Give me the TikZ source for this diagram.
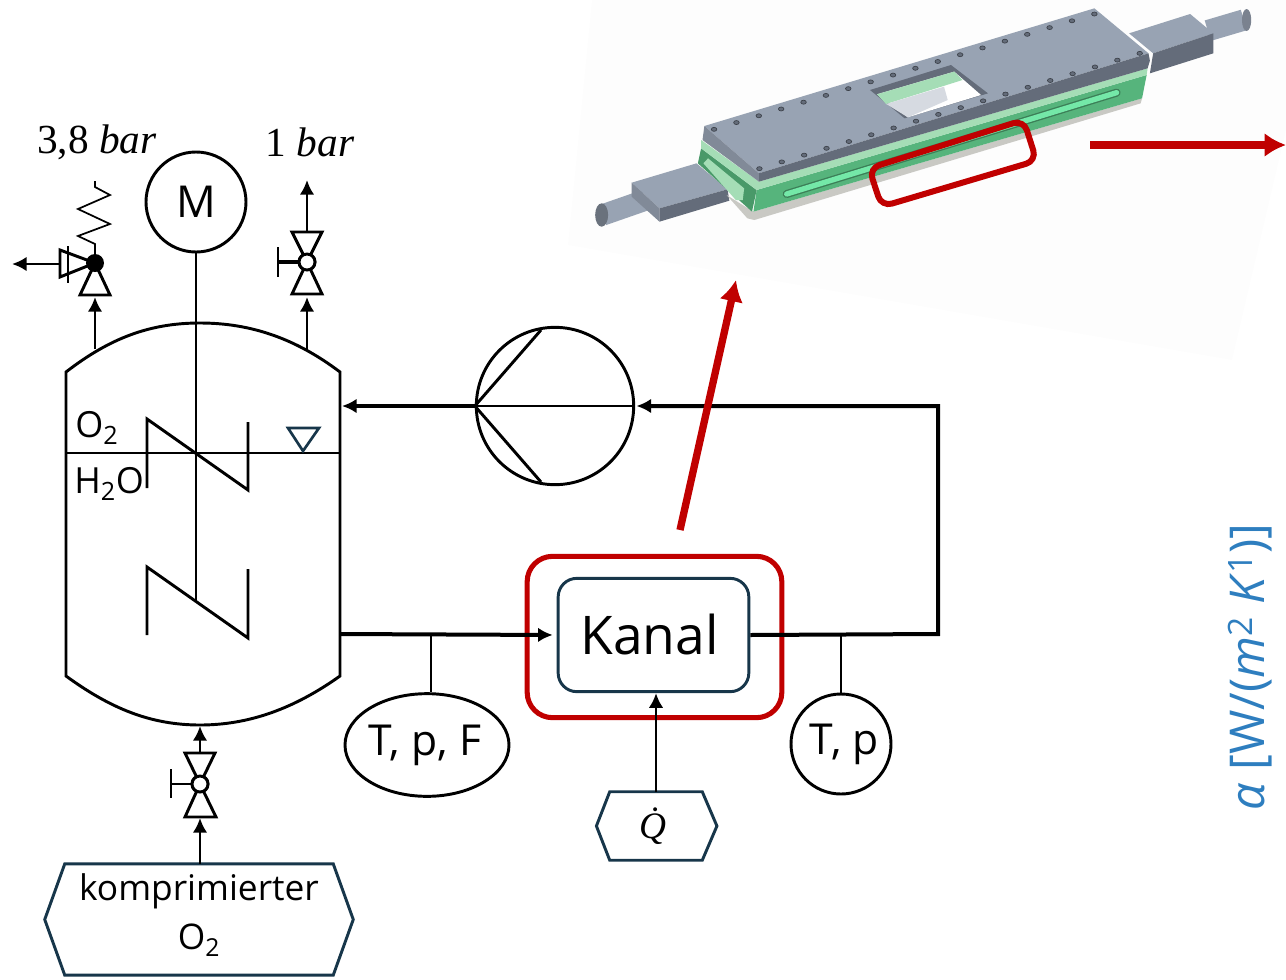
\documentclass[tikz,border=0pt]{standalone}
\usepackage{fontspec}
\usepackage{xcolor}
\setmainfont{Open Sans}
\newfontfamily\mathlike{Liberation Serif}
\usetikzlibrary{arrows.meta,shapes.geometric}
\definecolor{tealdark}{HTML}{17364A}
\definecolor{kanalred}{HTML}{C00000}
\definecolor{alphablue}{HTML}{2E7EBF}
\definecolor{plategrey}{HTML}{98A3B3}
\definecolor{platedark}{HTML}{646C7A}
\definecolor{greenbody}{HTML}{56B47C}
\definecolor{greenlight}{HTML}{A5DDB6}
\definecolor{slotgreen}{HTML}{74E8A8}
\definecolor{basegrey}{HTML}{C9C9C4}
\tikzset{
  line/.style={line width=2.2pt,draw=black},
  flow/.style={line width=2.2pt,-{Latex[length=11pt,width=11pt]}},
  mainflow/.style={line width=3pt,-{Latex[length=11pt,width=11pt]}},
  redflow/.style={line width=5.5pt,draw=kanalred,-{Latex[length=16pt,width=18pt]}},
  valvetri/.style={line width=2.2pt,draw=black,fill=white},
  sensor/.style={draw,line width=2.2pt,fill=white,inner sep=0pt},
  hexbody/.style={inner sep=0pt},
  hexline/.style={draw=tealdark,line width=2.2pt,line join=miter},
  bolt/.style={fill=platedark,draw=platedark!60!black,line width=.5pt}
}
\begin{document}
\begin{tikzpicture}[x=.75pt,y=-.75pt]
  \useasboundingbox (0,0) rectangle (1286,979);

  % background of the model picture
  \fill[black!.7] (592,0) -- (1286,0) -- (1286,130) -- (1232,360) -- (568,245) -- cycle;

  % model
  \begin{scope}[shift={(560,0)},x=.347pt,y=-.25pt]
    \draw[plategrey,line width=16pt] (92,645) -- (185,600);
    \fill[plategrey!70!black] (90,645) ellipse (14 and 35);
    \fill[plategrey] (155,548) -- (295,490) -- (362,568) -- (215,625) -- cycle;
    \fill[platedark] (215,625) -- (362,568) -- (366,602) -- (215,665) -- cycle;
    \fill[plategrey!85!black] (155,548) -- (215,625) -- (215,665) -- (155,590) -- cycle;
    \draw[plategrey,line width=16pt] (1400,92) -- (1478,60);
    \fill[plategrey!80!black] (1484,60) ellipse (10 and 33);
    \fill[plategrey] (1230,100) -- (1362,42) -- (1412,100) -- (1282,160) -- cycle;
    \fill[platedark] (1282,160) -- (1412,100) -- (1412,160) -- (1275,220) -- cycle;

    \fill[basegrey] (360,585) -- (418,635) -- (1258,295) -- (1255,310) -- (420,660) -- (405,655) -- cycle;
    \fill[greenbody] (425,570) -- (1268,225) -- (1258,295) -- (418,635) -- cycle;
    \fill[greenbody!85!black] (305,445) -- (425,570) -- (415,635) -- (298,490) -- cycle;
    \fill[greenlight] (305,420) -- (430,545) -- (1270,205) -- (1268,225) -- (425,570) -- (305,445) -- cycle;
    \fill[greenlight] (310,490) -- (320,475) -- (398,565) -- (395,600) -- (380,600) -- cycle;
    \fill[plategrey] (312,378) -- (1155,25) -- (1272,160) -- (430,520) -- cycle;
    \fill[platedark] (430,520) -- (1272,160) -- (1275,182) -- (1270,205) -- (430,545) -- cycle;
    \fill[plategrey!85!black] (312,378) -- (430,520) -- (430,545) -- (308,420) -- cycle;

    \draw[greenbody!70!black,line width=6pt,line cap=round] (490,582) -- (1203,278);
    \draw[slotgreen,line width=4pt,line cap=round] (490,582) -- (1203,278);

    \fill[platedark] (670,270) -- (845,195) -- (925,280) -- (745,355) -- cycle;
    \fill[white] (685,283) -- (852,215) -- (910,285) -- (752,352) -- cycle;
    \fill[greenlight] (685,283) -- (852,215) -- (870,240) -- (705,312) -- cycle;
    \fill[plategrey!40] (705,312) -- (830,260) -- (838,300) -- (752,352) -- cycle;

    \foreach \n in {0,...,17} {
      \fill[bolt] ({333+48.35*\n},{388-20.35*\n}) circle (6);
      \fill[bolt] ({431+48.35*\n},{506-20.35*\n}) circle (6);
    }

    \draw[kanalred,line width=4.5pt,rounded corners=8pt] (668,505) -- (1002,360) -- (1030,482) -- (695,620) -- cycle;
  \end{scope}

  % vessel
  \draw[line] (66,676) -- (66,372) .. controls (110,338) and (150,323) .. (200,323)
    .. controls (250,323) and (295,338) .. (340,372) -- (340,676)
    .. controls (295,708) and (250,725) .. (200,725) .. controls (150,725) and (110,708) .. (66,676) -- cycle;
  \coordinate (vesselrelief) at (95,349);
  \coordinate (vesseldrain) at (307,349);
  \coordinate (vesselbottom) at (200,726);
  \coordinate (vesselout) at (340,634);
  \coordinate (vesselin) at (342,406);
  \draw[line] (66,453) -- (340,453);
  \draw[line] (147,488) -- (147,419) -- (248,490) -- (248,422);
  \draw[line] (147,635) -- (147,567) -- (248,638) -- (248,569);
  \draw[draw=tealdark,line width=2pt] (288,428) -- (319,428) -- (303,451) -- cycle;
  \node[inner sep=0pt,anchor=west] (gaslabel) at (75,428) {\fontsize{27}{30}\selectfont O\textsubscript{2}};
  \node[inner sep=0pt,anchor=west] (waterlabel) at (74,484) {\fontsize{27}{30}\selectfont H\textsubscript{2}O};

  % motor
  \node[sensor,circle,minimum size=75pt] (motor) at (196,202) {\fontsize{33}{36}\selectfont M};
  \coordinate (shaftend) at (196,600);
  \draw[line] (motor.south) -- (shaftend);

  % relief valve
  \coordinate (reliefc) at (95,263);
  \coordinate (reliefout) at (12,264);
  \draw[valvetri] (reliefc) -- (110,295) -- (80,295) -- cycle;
  \draw[valvetri] (reliefc) -- (60,250) -- (60,277) -- cycle;
  \draw[line] (68,246) -- (68,283);
  \draw[flow] (60,264) -- (reliefout);
  \draw[line width=1.3pt] (reliefc) -- (95,244) -- (78,236) -- (110,224) -- (78,209) -- (110,195) -- (95,187) -- (95,181);
  \fill (reliefc) circle (9);
  \draw[flow] (vesselrelief) -- (95,297);
  \node[inner sep=0pt] (pressrelief) at (97,142) {\fontsize{31}{33}\mathlike 3,8 \textit{bar}};

  % vent valve
  \node[sensor,circle,minimum size=12pt] (ventvalve) at (307,262) {};
  \draw[valvetri] (ventvalve.center) -- (292,232) -- (322,232) -- cycle;
  \draw[valvetri] (ventvalve.center) -- (292,294) -- (322,294) -- cycle;
  \node[sensor,circle,minimum size=12pt] at (ventvalve) {};
  \coordinate (venthandle) at (278,262);
  \draw[line width=3pt] (ventvalve.west) -- (venthandle);
  \draw[line] (278,247) -- (278,277);
  \coordinate (venttop) at (307,180);
  \draw[flow] (vesseldrain) -- (307,297);
  \draw[flow] (307,232) -- (venttop);
  \node[inner sep=0pt] (pressvent) at (310,142) {\fontsize{31}{33}\mathlike 1 \textit{bar}};

  % feed valve
  \node[sensor,circle,minimum size=12pt] (feedvalve) at (200,784) {};
  \draw[valvetri] (feedvalve.center) -- (185,753) -- (215,753) -- cycle;
  \draw[valvetri] (feedvalve.center) -- (185,817) -- (216,817) -- cycle;
  \node[sensor,circle,minimum size=12pt] at (feedvalve) {};
  \coordinate (feedhandle) at (171,784);
  \draw[line] (feedvalve.west) -- (feedhandle);
  \draw[line] (171,769) -- (171,798);
  \draw[flow] (200,753) -- (vesselbottom);

  % oxygen supply
  \node[hexbody,minimum width=201pt,minimum height=83pt] (oxygen) at (199,919.5) {};
  \draw[hexline] (oxygen.north west) -- (oxygen.north east) -- ([xshift=15pt]oxygen.east)
    -- (oxygen.south east) -- (oxygen.south west) -- ([xshift=-15pt]oxygen.west) -- cycle;
  \node[inner sep=0pt,align=center] (oxygentext) at (199,915) {\fontsize{26.5}{38}\selectfont komprimierter\\[10pt]\fontsize{26.5}{38}\selectfont O\textsubscript{2}};
  \draw[flow] (oxygen.north -| feedvalve) -- (200,818);

  % kanal
  \node[draw=kanalred,line width=3.8pt,rounded corners=19pt,minimum width=191pt,minimum height=121pt] (heatbox) at (654.5,637) {};
  \node[draw=tealdark,line width=2.2pt,rounded corners=14pt,minimum width=143pt,minimum height=85pt,inner sep=0pt] (kanal) at (653.5,635) {\fontsize{40}{44}\selectfont\hspace*{-6pt}\raisebox{1.5pt}{Kanal}};
  \node[hexbody,minimum width=69pt,minimum height=51pt] (heat) at (656,826) {\fontsize{28}{30}\mathlike\itshape\hspace*{-5pt}\.{Q}};
  \draw[hexline] (heat.north west) -- (heat.north east) -- ([xshift=11pt]heat.east)
    -- (heat.south east) -- (heat.south west) -- ([xshift=-10pt]heat.west) -- cycle;
  \draw[flow] (heat.north) -- (kanal.south -| heat);

  % sensors
  \node[sensor,ellipse,minimum width=123pt,minimum height=77pt] (sensorin) at (427,745) {\fontsize{32}{36}\selectfont\hspace*{-3pt}T, p, F};
  \node[sensor,circle,minimum size=75pt] (sensorout) at (841,744) {\fontsize{32}{36}\selectfont\hspace*{5pt}T, p};
  \coordinate (tapin) at (431,634);
  \coordinate (tapout) at (841,634);
  \draw[line] (tapin) -- (sensorin.north -| tapin);
  \draw[line] (tapout) -- (sensorout.north);

  % pump
  \node[sensor,circle,minimum size=118pt] (pump) at (555,406) {};
  \coordinate (pumptop) at (541,330);
  \coordinate (pumpbot) at (541,482);
  \draw[line] (pumptop) -- (pump.west) -- (pumpbot);
  \draw[line] (pump.west) -- (pump.east);

  % main loop
  \coordinate (loopbot) at (938,634);
  \coordinate (looptop) at (938,406);
  \draw[mainflow,shorten >=3pt] (vesselout) -- (kanal.west);
  \draw[mainflow,shorten >=1pt] (kanal.east) -- (loopbot) -- (looptop) -- (pump.east);
  \draw[mainflow] (pump.west) -- (vesselin);

  % red arrows
  \coordinate (modelarrowstart) at (680,530);
  \coordinate (modelarrowend) at (736,280);
  \coordinate (rightarrowstart) at (1090,145);
  \coordinate (rightarrowend) at (1286,145);
  \draw[redflow] (modelarrowstart) -- (modelarrowend);
  \draw[redflow] (rightarrowstart) -- (rightarrowend);

  % axis label
  \node[rotate=90,text=alphablue,inner sep=0pt] (alphalabel) at (1250,667) {\fontsize{36}{40}\selectfont \textit{α} [W/(\textit{m}\textsuperscript{2} \textit{K}\textsuperscript{1})]};
\end{tikzpicture}
\end{document}
